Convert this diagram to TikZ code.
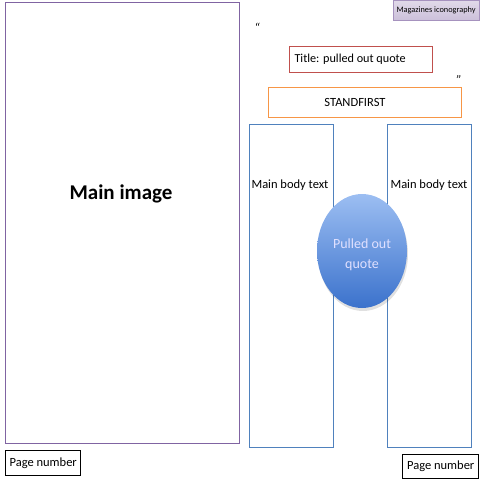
\documentclass[tikz,border=0pt]{standalone}
\usepackage{fontspec}
\setmainfont{Carlito}
\usetikzlibrary{shadows}
\definecolor{purp}{HTML}{8064A2}
\definecolor{redb}{HTML}{C0504D}
\definecolor{orab}{HTML}{F79646}
\definecolor{blub}{HTML}{4F81BD}
\definecolor{lav}{HTML}{CCC0DA}
\definecolor{elltop}{HTML}{9CBEF2}
\definecolor{ellbot}{HTML}{3B72CC}
\begin{document}
\begin{tikzpicture}[x=1pt,y=-1pt,
  box/.style={draw,line width=1.4pt,inner sep=0pt},
  lbl/.style={font=\fontsize{12.5}{14}\selectfont}]
\useasboundingbox (0,0) rectangle (480,480);
% main image
\node[box,draw=purp,minimum width=234pt,minimum height=441pt,anchor=north west] (main) at (5,2) {};
\node[font=\bfseries\fontsize{21}{24}\selectfont] (maintxt) at (121,194) {Main image};
% tag
\node[draw=purp!70,line width=0.6pt,top color=lav!60,bottom color=lav,minimum width=84pt,minimum height=20pt,anchor=north west,font=\fontsize{8.3}{9}\selectfont,drop shadow={opacity=0.25,shadow xshift=1pt,shadow yshift=-1pt}] (tag) at (393,0) {Magazines iconography};
% quotes
\node[font=\fontsize{13}{14}\selectfont\itshape] (q1) at (257,28) {\char"201C};
\node[font=\fontsize{13}{14}\selectfont\itshape] (q2) at (459,80) {\char"201D};
% title
\node[box,draw=redb,minimum width=143pt,minimum height=26pt,anchor=north west] (title) at (289,46) {};
\node[font=\fontsize{12.2}{14}\selectfont,anchor=west] (titletxt) at (291,59) {Title: pulled out quote};
% standfirst
\node[box,draw=orab,minimum width=193pt,minimum height=30pt,anchor=north west] (stand) at (268,87) {};
\node[lbl] (standtxt) at (355,102) {STANDFIRST};
% columns
\node[box,draw=blub,minimum width=84pt,minimum height=323pt,anchor=north west] (col1) at (249,124) {};
\node[lbl] (c1t) at (290,185) {Main body text};
\node[box,draw=blub,minimum width=84pt,minimum height=323pt,anchor=north west] (col2) at (387,124) {};
\node[lbl] (c2t) at (429,185) {Main body text};
% pulled out quote ellipse
\fill[black,opacity=0.12] (363,254) ellipse [x radius=45pt,y radius=57pt];
\shade[top color=elltop,bottom color=ellbot] (362,251) ellipse [x radius=45pt,y radius=57pt];
\node[text=white!88!blue,align=center,font=\fontsize{14}{20}\selectfont] (pq) at (362,255) {Pulled out\\quote};
% page numbers
\node[box,draw=black,minimum width=75pt,minimum height=25pt,anchor=north west] (pn1) at (5,450) {};
\node[font=\fontsize{12.5}{14}\selectfont] at (pn1.center) {Page number};
\node[box,draw=black,minimum width=76pt,minimum height=24pt,anchor=north west] (pn2) at (402,454) {};
\node[font=\fontsize{12.5}{14}\selectfont] at (pn2.center) {Page number};
\end{tikzpicture}
\end{document}
